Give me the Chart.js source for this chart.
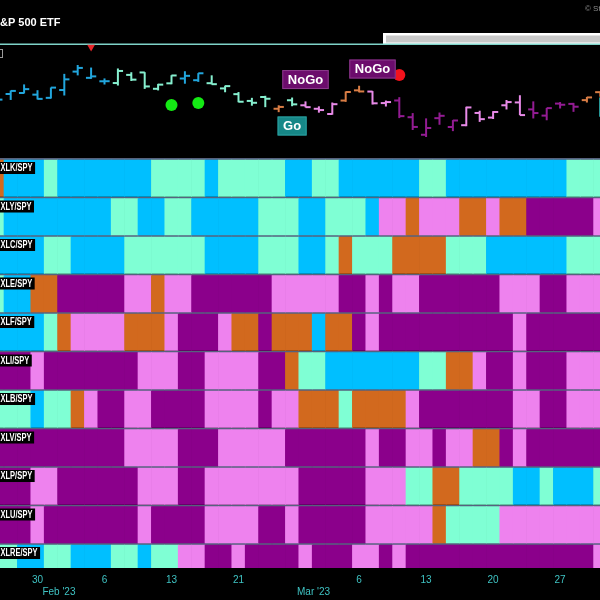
<!DOCTYPE html>
<html>
<head>
<meta charset="utf-8">
<title>S&amp;P 500 ETF - GoNoGo sector heat map</title>
<script src="https://cdn.jsdelivr.net/npm/chart.js"></script>
<style>
  html, body { margin: 0; padding: 0; background: #000; overflow: hidden; }
  #wrap { position: relative; width: 600px; height: 600px; }
</style>
</head>
<body>
<div id="wrap"><canvas id="chart" width="600" height="600"></canvas></div>
<script>
// trading days in view (first and last one are cut by the frame)
const dates = ['Jan 25','Jan 26','Jan 27','Jan 30','Jan 31','Feb 1','Feb 2','Feb 3','Feb 6','Feb 7',
  'Feb 8','Feb 9','Feb 10','Feb 13','Feb 14','Feb 15','Feb 16','Feb 17','Feb 21','Feb 22',
  'Feb 23','Feb 24','Feb 27','Feb 28','Mar 1','Mar 2','Mar 3','Mar 6','Mar 7','Mar 8',
  'Mar 9','Mar 10','Mar 13','Mar 14','Mar 15','Mar 16','Mar 17','Mar 20','Mar 21','Mar 22',
  'Mar 23','Mar 24','Mar 27','Mar 28','Mar 29','Mar 30'];

// SPY daily bars
const opens = [395.95, 403.13, 403.66, 402.80, 401.13, 405.21, 414.86, 411.59, 409.79, 408.87,
  413.13, 414.41, 405.86, 408.72, 411.24, 410.35, 408.79, 406.06, 403.06, 399.52,
  401.56, 395.42, 399.87, 397.23, 395.41, 392.68, 399.71, 405.05, 404.42, 398.39,
  399.74, 390.99, 381.81, 390.50, 385.89, 386.82, 393.22, 390.80, 397.24, 398.73,
  395.09, 391.84, 398.12, 397.97, 399.93, 404.10];
const highs = [400.70, 404.92, 408.16, 405.13, 406.53, 413.67, 418.31, 416.97, 411.29, 416.49,
  414.53, 414.57, 408.44, 412.97, 415.05, 414.06, 412.91, 407.51, 404.16, 401.13,
  402.20, 397.25, 401.29, 399.28, 396.69, 398.69, 404.45, 407.45, 404.67, 399.71,
  401.48, 393.16, 390.39, 393.45, 389.49, 396.47, 394.40, 394.17, 400.01, 402.49,
  399.29, 395.84, 398.92, 398.50, 401.60, 404.20];
const lows = [393.56, 400.03, 403.44, 400.28, 400.77, 402.35, 412.88, 411.09, 408.10, 407.57,
  409.93, 405.81, 405.01, 408.24, 408.51, 409.47, 408.14, 404.05, 398.82, 397.02,
  396.25, 393.64, 396.75, 396.15, 393.38, 392.33, 399.03, 404.01, 397.63, 396.59,
  390.53, 384.32, 380.65, 387.05, 383.71, 386.29, 388.55, 390.07, 395.04, 392.07,
  390.35, 389.40, 395.56, 393.80, 398.68, 401.76];
const closes = [400.20, 404.75, 405.68, 400.59, 406.48, 410.80, 416.78, 412.35, 409.83, 415.19,
  410.65, 407.09, 408.04, 412.83, 412.64, 413.98, 408.28, 407.26, 399.09, 398.54,
  400.66, 396.38, 397.73, 396.26, 394.74, 397.81, 404.19, 404.47, 398.27, 398.92,
  391.56, 385.91, 385.36, 391.73, 389.28, 396.11, 389.99, 393.74, 398.91, 392.11,
  393.17, 395.75, 397.52, 396.49, 401.35, 403.70];

// trend of each day: B strong Go, A weak Go, O Go Fish, P weak NoGo, M strong NoGo
const priceTrend = 'BBBBBBBBB AAAAA BB AAAAA O A PPP OO PP MMMMM PPPPP MMMM OO';

const sectors = ['XLK/SPY','XLY/SPY','XLC/SPY','XLE/SPY','XLF/SPY','XLI/SPY',
  'XLB/SPY','XLV/SPY','XLP/SPY','XLU/SPY','XLRE/SPY'];
const sectorTrend = [
  'O BBB A BBBBBBB AAAA B AAAAA BB AA BBBBBB AA BBBBBBBBB AAA',
  'A BBBBBBBB AA BB AA BBBBB AAA BB AAA B PP O PPP OO P OO MMMMM P',
  'BBBB AA BBBB AAAAAA BBBB AAA BB A O AAA OOOO AAA BBBBBB AAA',
  'A BB OO MMMMM PP O PP MMMMMM PPPPP MM P M PP MMMMMM PPP MM PPP',
  'BBBB A O PPPP OOO P MMM P OO M OOO B OO M P MMMMMMMMMM P MMMMMM',
  'MMM P MMMMMMM PPP MM PPPP MM O AA BBBBBBB AA OO P MM P MMM PPP',
  'AAA B AA O P MM PP MMMM PPPP M PP OOO A OOOO P MMMMMMM PP MM PPP',
  'MMMMMMMMMM PPPP MMM PPPPP MMMMMM P MM PP M PP OO M P MMMMMM',
  'MMM PP MMMMMM PPP MM PPPPPPP MMMMM PPP AA OO AAAA BB A BBB A',
  'MMM P MMMMMMM P MMMM PPPP MM P MMMMM PPPPP O AAAA PPPPPPPP',
  'AA BB AA BBB AA B AA PP MM P MMMM P MMM PP M P MMMMMMMMMMMMMM P'
];

// x-axis labels
const dayTicks = ['Jan 30','Feb 6','Feb 13','Feb 21','Mar 6','Mar 13','Mar 20','Mar 27'];
const dayTickLabels = ['30','6','13','21','6','13','20','27'];
const monthTicks = ['Feb 1','Mar 1'];
const monthTickLabels = ["Feb '23","Mar '23"];

// signals on the price panel
const goDotDates = ['Feb 13','Feb 15'];
const goDotPrices = [397.4, 398.4];
const noGoDotDates = ['Mar 9'];
const noGoDotPrices = [413.1];
const peakDates = ['Feb 3'];
const peakPrices = [427.7];
const signalDates = ['Feb 27','Feb 28','Mar 7','Mar 31'];
const signalPrices = [386.4, 410.7, 416.2, 396.3];
const signalTexts = ['Go','NoGo','NoGo','Go'];

const trendColors = { B: '#00bfff', A: '#7fffd4', O: '#d2691e', P: '#ee82ee', M: '#8b008b' };
const barColors = { B: '#22a6dd', A: '#86efcf', O: '#d97d45', P: '#e88ae8', M: '#931c93' };

const dayIndex = d => dates.includes(d) ? dates.indexOf(d) : dates.length;
const dayX = j => j - 0.5;          // centre of the day's slot
const tickOffset = 0.19;            // open/close tick offset in slots
const rowGap = 0.028;

const codes = s => [...s.replace(/ /g, '')];

const xTicks = dayTicks.map((d, i) => ({ value: dayX(dayIndex(d)), label: dayTickLabels[i] }))
  .concat(monthTicks.map((d, i) => ({ value: dayIndex(d) - 0.9, label: ['', monthTickLabels[i]] })))
  .sort((a, b) => a.value - b.value);

const priceCols = codes(priceTrend).map(c => barColors[c]);

const heatSets = sectors.map((name, k) => ({
  type: 'bar',
  label: name,
  yAxisID: 'yHeat',
  order: 4,
  data: dates.map((d, j) => ({ x: dayX(j), y: [k + rowGap, k + 1 - rowGap] })),
  backgroundColor: codes(sectorTrend[k]).map(c => trendColors[c]),
  grouped: false,
  barPercentage: 1,
  categoryPercentage: 1,
  borderWidth: 0
}));

const datasets = [
  {
    type: 'scatter', yAxisID: 'yPrice', order: 0,
    data: goDotDates.map((d, i) => ({ x: dayX(dayIndex(d)), y: goDotPrices[i] })),
    pointRadius: 6, pointBackgroundColor: '#14ea14', pointBorderWidth: 0
  },
  {
    type: 'scatter', yAxisID: 'yPrice', order: 0,
    data: noGoDotDates.map((d, i) => ({ x: dayX(dayIndex(d)), y: noGoDotPrices[i] })),
    pointRadius: 6, pointBackgroundColor: '#f4121c', pointBorderWidth: 0
  },
  {
    type: 'scatter', yAxisID: 'yPrice', order: 0, clip: false,
    data: peakDates.map((d, i) => ({ x: dayX(dayIndex(d)), y: peakPrices[i] })),
    pointStyle: 'triangle', rotation: 180, pointRadius: 4.5,
    pointBackgroundColor: '#e8262a', pointBorderWidth: 0
  },
  {
    type: 'scatter', yAxisID: 'yPrice', order: 1,
    data: opens.map((o, j) => ({ x: dayX(j) - tickOffset, y: o })),
    pointStyle: 'line', pointRadius: 2.6, pointBorderWidth: 2, pointBorderColor: priceCols
  },
  {
    type: 'scatter', yAxisID: 'yPrice', order: 1,
    data: closes.map((c, j) => ({ x: dayX(j) + tickOffset, y: c })),
    pointStyle: 'line', pointRadius: 2.6, pointBorderWidth: 2, pointBorderColor: priceCols
  },
  {
    type: 'bar', yAxisID: 'yPrice', order: 2,
    data: highs.map((h, j) => ({ x: dayX(j), y: [lows[j], h] })),
    backgroundColor: priceCols, barThickness: 2, grouped: false,
    borderWidth: 0, inflateAmount: 0
  }
].concat(heatSets);

// header, scroll bar and panel frame
const framePlugin = {
  id: 'frame',
  beforeDraw(chart) {
    const ctx = chart.ctx;
    ctx.save();
    ctx.fillStyle = '#000';
    ctx.fillRect(0, 0, chart.width, chart.height);
    ctx.textBaseline = 'alphabetic';
    ctx.textAlign = 'left';
    ctx.fillStyle = '#fff';
    ctx.font = 'bold 11px "Liberation Sans", Arial, sans-serif';
    ctx.fillText('S&P 500 ETF', -7.3, 26);
    ctx.fillStyle = '#8c8c8c';
    ctx.font = '8px "Liberation Sans", Arial, sans-serif';
    ctx.fillText('\u00a9 StockCharts.com', 585, 11);
    ctx.fillStyle = '#fff';
    ctx.fillRect(383, 33, 220, 11);
    ctx.fillStyle = '#c8c8c8';
    ctx.fillRect(386, 35.5, 220, 7);
    ctx.fillStyle = '#7fd3c9';
    ctx.fillRect(0, 43.5, chart.width, 1.5);
    ctx.strokeStyle = '#9a9a9a';
    ctx.lineWidth = 1;
    ctx.strokeRect(-4.5, 49.5, 7, 8);
    ctx.restore();
  }
};

// Go / NoGo boxes and sector names
const labelPlugin = {
  id: 'labels',
  afterDatasetsDraw(chart) {
    const { ctx, scales: { x, yPrice, yHeat } } = chart;
    ctx.save();
    ctx.font = 'bold 13px "Liberation Sans", Arial, sans-serif';
    ctx.textAlign = 'center';
    ctx.textBaseline = 'middle';
    signalTexts.forEach((text, i) => {
      const cx = x.getPixelForValue(dayX(dayIndex(signalDates[i])));
      const cy = yPrice.getPixelForValue(signalPrices[i]);
      const w = ctx.measureText(text).width + 11, h = 19;
      const go = text === 'Go';
      ctx.fillStyle = go ? '#168787' : '#6c0c6c';
      ctx.fillRect(cx - w / 2, cy - h / 2, w, h);
      ctx.strokeStyle = go ? '#2a9f9f' : '#8a3a8a';
      ctx.lineWidth = 1;
      ctx.strokeRect(cx - w / 2 + 0.5, cy - h / 2 + 0.5, w - 1, h - 1);
      ctx.fillStyle = '#fff';
      ctx.fillText(text, cx, cy + 0.5);
    });

    ctx.font = 'bold 10px "Liberation Sans", Arial, sans-serif';
    ctx.textAlign = 'left';
    sectors.forEach((name, k) => {
      const top = yHeat.getPixelForValue(k);
      const w = ctx.measureText(name).width * 0.75 + 3;
      ctx.fillStyle = '#000';
      ctx.fillRect(0, top + 3, w, 12);
      ctx.save();
      ctx.translate(0.5, top + 9.5);
      ctx.scale(0.75, 1);
      ctx.fillStyle = '#fff';
      ctx.fillText(name, 0, 0);
      ctx.restore();
    });
    ctx.restore();
  }
};

new Chart(document.getElementById('chart').getContext('2d'), {
  type: 'bar',
  data: { datasets: datasets },
  plugins: [framePlugin, labelPlugin],
  options: {
    responsive: false,
    animation: false,
    events: [],
    layout: { autoPadding: false, padding: { top: 45, bottom: 2, left: 0, right: 0 } },
    plugins: {
      legend: { display: false },
      tooltip: { enabled: false }
    },
    scales: {
      x: {
        type: 'linear',
        min: -0.2985,
        max: 44.478,
        bounds: 'data',
        offset: false,
        grid: { display: false, drawTicks: false },
        border: { display: false },
        afterBuildTicks: axis => { axis.ticks = xTicks.map(t => ({ value: t.value })); },
        afterFit: axis => { axis.height = 30; },
        ticks: {
          autoSkip: false,
          maxRotation: 0,
          padding: 6,
          color: '#3fc3c3',
          font: { size: 10, family: '"Liberation Sans", Arial, sans-serif' },
          callback: (value, index) => xTicks[index] ? xTicks[index].label : ''
        }
      },
      yPrice: {
        type: 'linear',
        display: false,
        position: 'left',
        min: 155.2,
        max: 428.77,
        bounds: 'data',
        beginAtZero: false
      },
      yHeat: {
        type: 'linear',
        position: 'left',
        reverse: true,
        min: -2.961,
        max: 10.623,
        bounds: 'data',
        beginAtZero: false,
        afterBuildTicks: axis => { axis.ticks = sectors.map((s, k) => ({ value: k })); },
        ticks: { display: false },
        border: { display: false },
        grid: { color: '#56627e', lineWidth: 2, drawTicks: false }
      }
    }
  }
});
</script>
</body>
</html>
